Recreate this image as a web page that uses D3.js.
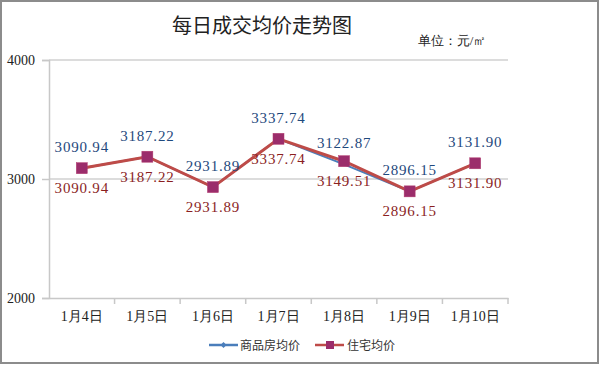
<!DOCTYPE html>
<html><head><meta charset="utf-8">
<script src="https://cdn.jsdelivr.net/npm/d3@7/dist/d3.min.js"></script>
<style>body{margin:0;background:#fff}svg{display:block}</style>
</head><body>
<svg id="c" width="600" height="365"></svg>
<script>
const categories = ["1月4日","1月5日","1月6日","1月7日","1月8日","1月9日","1月10日"];
const commercial = [3090.94, 3187.22, 2931.89, 3337.74, 3122.87, 2896.15, 3131.90];
const residential = [3090.94, 3187.22, 2931.89, 3337.74, 3149.51, 2896.15, 3131.90];
const yTicks = [2000, 3000, 4000];
const seriesNames = ["商品房均价", "住宅均价"];

const svg = d3.select("#c");
const serif = "'Liberation Serif','DejaVu Serif',serif";
const cjk = "'Noto Sans CJK SC','Noto Sans',sans-serif";

// outer border
svg.append("rect").attr("x",1).attr("y",1).attr("width",597).attr("height",362)
  .attr("fill","#fff").attr("stroke","#8c8c8c").attr("stroke-width",2);

const L=49, R=508, T=60, B=298;
const x = d3.scaleBand().domain(categories).range([L,R]);
const y = d3.scaleLinear().domain([2000,4000]).range([B,T]);

// grid
svg.append("g").selectAll("line").data(yTicks.filter(d=>d>2000)).join("line")
  .attr("x1",L).attr("x2",R).attr("y1",d=>y(d)).attr("y2",d=>y(d))
  .attr("stroke","#d0d0d0").attr("stroke-width",1.5);

// y axis
const ya = svg.append("g").attr("transform",`translate(${L},0)`)
  .call(d3.axisLeft(y).tickValues(yTicks).tickSize(7).tickPadding(7).tickFormat(d3.format("d")));
ya.select(".domain").attr("stroke","#c8c8c8").attr("stroke-width",1.5);
ya.selectAll(".tick line").attr("stroke","#c8c8c8").attr("stroke-width",1.5);
ya.selectAll("text").attr("font-family",serif).attr("font-size",14).attr("fill","#222");

// x axis
const xa = svg.append("g").attr("transform",`translate(0,${B})`)
  .call(d3.axisBottom(x).tickSize(0).tickPadding(13));
xa.select(".domain").attr("stroke","#c8c8c8").attr("stroke-width",1.5);
xa.selectAll("text").attr("font-family",serif).attr("font-size",14).attr("fill","#222");
svg.append("g").selectAll("line").data(d3.range(1, categories.length+1))
  .join("line")
  .attr("x1",i=>L+i*x.step()).attr("x2",i=>L+i*x.step())
  .attr("y1",B).attr("y2",B+6).attr("stroke","#c8c8c8").attr("stroke-width",1.5);

const cx = d => x(d)+x.bandwidth()/2;
const line = d3.line().x((d,i)=>cx(categories[i])).y(d=>y(d));

// blue series (under)
svg.append("path").datum(commercial).attr("d",line).attr("fill","none")
  .attr("stroke","#4a7ebb").attr("stroke-width",2);
// red series
svg.append("path").datum(residential).attr("d",line).attr("fill","none")
  .attr("stroke","#be4b48").attr("stroke-width",3);
svg.append("g").selectAll("rect").data(residential).join("rect")
  .attr("x",(d,i)=>cx(categories[i])-5.5).attr("y",d=>y(d)-5.5)
  .attr("width",11).attr("height",11).attr("fill","#9b2d6b").attr("stroke","#b23a6e").attr("stroke-width",0.5);

// labels
const fmt = d3.format(".2f");
svg.append("g").selectAll("text").data(commercial).join("text")
  .attr("x",(d,i)=>cx(categories[i])).attr("y",d=>y(d)-16)
  .attr("text-anchor","middle").attr("font-family",serif).attr("font-size",15)
  .attr("letter-spacing",0.8).attr("fill","#1f497d").text(d=>fmt(d));
svg.append("g").selectAll("text").data(residential).join("text")
  .attr("x",(d,i)=>cx(categories[i])).attr("y",d=>y(d)+25)
  .attr("text-anchor","middle").attr("font-family",serif).attr("font-size",15)
  .attr("letter-spacing",0.8).attr("fill","#8b1f1f").text(d=>fmt(d));

// title
svg.append("text").attr("x",262).attr("y",33).attr("text-anchor","middle")
  .attr("font-family",cjk).attr("font-size",20).attr("fill","#222").text("每日成交均价走势图");
svg.append("text").attr("x",452).attr("y",45).attr("text-anchor","middle")
  .attr("font-family",serif).attr("font-size",13).attr("fill","#222").text("单位：元/㎡");

// legend
const lg = svg.append("g").attr("font-family",cjk).attr("font-size",12).attr("fill","#333");
lg.append("line").attr("x1",209).attr("x2",238).attr("y1",345).attr("y2",345).attr("stroke","#4a7ebb").attr("stroke-width",2.5);
lg.append("path").attr("d","M223.5,342 L226.5,345 L223.5,348 L220.5,345Z").attr("fill","#4a7ebb");
lg.append("text").attr("x",240).attr("y",349.5).text(seriesNames[0]);
lg.append("line").attr("x1",315).attr("x2",344).attr("y1",345).attr("y2",345).attr("stroke","#be4b48").attr("stroke-width",2.5);
lg.append("rect").attr("x",326).attr("y",341).attr("width",8).attr("height",8).attr("fill","#9b2d6b");
lg.append("text").attr("x",347).attr("y",349.5).text(seriesNames[1]);
</script>
</body></html>
